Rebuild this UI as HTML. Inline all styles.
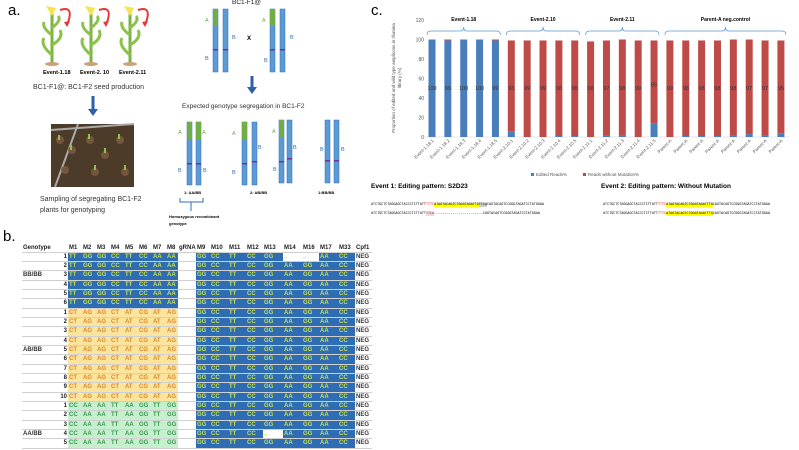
<!DOCTYPE html>
<html><head><meta charset="utf-8">
<style>
body{margin:0;background:#fff;font-family:"Liberation Sans",sans-serif;}
#root{position:relative;width:799px;height:450px;overflow:hidden;background:#fff}
.abs{position:absolute}
.t{position:absolute;white-space:nowrap}
#tbl div{position:absolute;font-size:6px;font-weight:bold;line-height:9px;text-align:left;box-sizing:border-box}
</style></head>
<body>
<div id="root">
<div class="t" style="left:8px;top:2px;font-size:15px">a.</div>
<div class="t" style="left:3px;top:228px;font-size:15px">b.</div>
<div class="t" style="left:371px;top:2px;font-size:15px">c.</div>

<svg class="abs" style="left:0;top:0" width="370" height="230">
 <g>
  <g id="plant"><path d="M52 64 L52 12" stroke="#7cb342" stroke-width="3"/><path d="M52 55 Q40 45 44 38 M52 45 Q64 38 60 30 M52 35 Q42 28 44 22 M52 28 Q62 20 58 16" stroke="#8bc34a" stroke-width="3" fill="none"/><path d="M46 6 L52 16 L56 8 Z" fill="#f5e44a"/><ellipse cx="52" cy="64" rx="7" ry="2" fill="#c9a27a"/><path d="M60 10 Q75 5 67 25" stroke="#e53935" stroke-width="2" fill="none"/><path d="M64 22 L67 27 L70 21" fill="#e53935"/></g>
  <use href="#plant" x="39"/><use href="#plant" x="78"/>
 </g>
 <text x="43" y="74" font-size="5.5" font-weight="bold" font-family="Liberation Sans">Event-1.18</text>
 <text x="80" y="74" font-size="5.5" font-weight="bold" font-family="Liberation Sans">Event-2. 10</text>
 <text x="119" y="74" font-size="5.5" font-weight="bold" font-family="Liberation Sans">Event-2.11</text>
 <text x="33" y="89" font-size="7" fill="#333" font-family="Liberation Sans">BC1-F1@: BC1-F2 seed production</text>
 <path d="M93 96 V110" stroke="#2f5fa8" stroke-width="3"/><path d="M88 109 L93 116 L98 109Z" fill="#2f5fa8"/>
 <rect x="51" y="124" width="83" height="63" fill="#4d3b2a"/>
 <path d="M51 130 L134 124 M55 187 L78 124" stroke="#aaa" stroke-width="2"/>
 <g fill="#7a5a3e" opacity=".9"><circle cx="60" cy="140" r="4"/><circle cx="72" cy="150" r="4"/><circle cx="90" cy="140" r="4"/><circle cx="105" cy="155" r="4"/><circle cx="120" cy="140" r="4"/><circle cx="65" cy="170" r="4"/><circle cx="95" cy="172" r="4"/><circle cx="125" cy="172" r="4"/></g>
 <g fill="#8bc34a"><rect x="58" y="135" width="2" height="5"/><rect x="88" y="134" width="2" height="5"/><rect x="104" y="148" width="2" height="5"/><rect x="118" y="134" width="2" height="5"/><rect x="94" y="165" width="2" height="5"/><rect x="124" y="165" width="2" height="5"/><rect x="70" y="145" width="2" height="5"/></g>
 <text x="40" y="201" font-size="7" fill="#333" font-family="Liberation Sans">Sampling of segregating BC1-F2</text>
 <text x="40" y="212" font-size="7" fill="#333" font-family="Liberation Sans">plants for genotyping</text>
 <text x="232" y="4" font-size="6.5" fill="#222" font-family="Liberation Sans">BC1-F1@</text>
 <g id="chrA"><rect x="213" y="9" width="5" height="63" fill="#5b9bd5" stroke="#2f6eb5" stroke-width=".5"/><rect x="213" y="9" width="5" height="17" fill="#70ad47"/><rect x="213" y="49" width="5" height="1.5" fill="#7030a0"/></g>
 <g id="chrB"><rect x="223" y="9" width="5" height="63" fill="#5b9bd5" stroke="#2f6eb5" stroke-width=".5"/><rect x="223" y="49" width="5" height="1.5" fill="#7030a0"/></g>
 <use href="#chrA" x="57"/><use href="#chrB" x="57"/>
 <g font-size="5.5" font-family="Liberation Sans"><text x="205" y="22" fill="#70ad47">A</text><text x="205" y="60" fill="#2f6eb5">B</text><text x="232" y="39" fill="#2f6eb5">B</text><text x="262" y="22" fill="#70ad47">A</text><text x="264" y="62" fill="#2f6eb5">B</text><text x="290" y="39" fill="#2f6eb5">B</text></g>
 <text x="247" y="40" font-size="6" font-weight="bold">X</text>
 <path d="M252 76 V88" stroke="#2f5fa8" stroke-width="3"/><path d="M247 87 L252 94 L257 87Z" fill="#2f5fa8"/>
 <text x="182" y="108" font-size="6.5" fill="#333" font-family="Liberation Sans">Expected genotype segregation in BC1-F2</text>
 <g id="chrA2"><rect x="187" y="122" width="5" height="63" fill="#5b9bd5" stroke="#2f6eb5" stroke-width=".5"/><rect x="187" y="122" width="5" height="17" fill="#70ad47"/><rect x="187" y="163" width="5" height="1.5" fill="#7030a0"/></g>
 <use href="#chrA2" x="9"/>
 <use href="#chrA2" x="55"/>
 <g><rect x="252" y="122" width="5" height="63" fill="#5b9bd5" stroke="#2f6eb5" stroke-width=".5"/><rect x="252" y="161" width="5" height="1.5" fill="#7030a0"/></g>
 <use href="#chrA2" x="92" y="-2"/>
 <g><rect x="287" y="120" width="5" height="63" fill="#5b9bd5" stroke="#2f6eb5" stroke-width=".5"/><rect x="287" y="158" width="5" height="1.5" fill="#7030a0"/></g>
 <g><rect x="325" y="120" width="5" height="63" fill="#5b9bd5" stroke="#2f6eb5" stroke-width=".5"/><rect x="325" y="160" width="5" height="1.5" fill="#7030a0"/><rect x="334" y="120" width="5" height="63" fill="#5b9bd5" stroke="#2f6eb5" stroke-width=".5"/><rect x="334" y="160" width="5" height="1.5" fill="#7030a0"/></g>
 <g font-size="5.5" font-family="Liberation Sans"><text x="178" y="134" fill="#70ad47">A</text><text x="202" y="134" fill="#70ad47">A</text><text x="178" y="172" fill="#2f6eb5">B</text><text x="203" y="172" fill="#2f6eb5">B</text><text x="232" y="135" fill="#70ad47">A</text><text x="232" y="174" fill="#2f6eb5">B</text><text x="258" y="149" fill="#2f6eb5">B</text><text x="272" y="133" fill="#70ad47">A</text><text x="273" y="171" fill="#2f6eb5">B</text><text x="293" y="149" fill="#2f6eb5">B</text><text x="320" y="151" fill="#2f6eb5">B</text><text x="341" y="151" fill="#2f6eb5">B</text></g>
 <g font-size="4" font-weight="bold" font-family="Liberation Sans"><text x="184" y="194">1: AA/BB</text><text x="250" y="194">2:  AB/BB</text><text x="318" y="194">1:BB/BB</text><text x="169" y="218">Homozygous recombinant</text><text x="169" y="225">genotype</text></g>
 <path d="M180 198 V202 H203 V198 M191 202 V211" stroke="#2f6eb5" stroke-width="1" fill="none"/>
</svg>

<div id="tbl" class="abs" style="left:0;top:0;width:380px;height:450px"></div>

<svg id="chart" class="abs" style="left:380px;top:0" width="419" height="230"></svg>

<div class="t" style="left:371px;top:183px;font-size:6.5px;font-weight:bold">Event 1: Editing pattern: S2D23</div>
<div class="t" style="left:601px;top:183px;font-size:6.5px;font-weight:bold">Event  2: Editing pattern: Without Mutation</div>
<div class="t" style="left:371px;top:201px;font-size:3.4px;font-family:'Liberation Mono',monospace;line-height:9px">ATCTGCTCTAGGAGCTACCCTCTTATT<span style="color:red">TTTC</span><span style="background:#ff0">ATAGTACAGTCTGGGTAGATTG</span><span style="background:#ccc">TTCA</span>CAGTACAGTCCGGGTAGATCCTATGGAA<br>ATCTGCTCTAGGAGCTACCCTCTTATT<span style="color:red;background:#ddd">TTCA</span>------------------------CAGTACAGTCCGGGTAGATCCTATGGAA</div>
<div class="t" style="left:603px;top:201px;font-size:3.4px;font-family:'Liberation Mono',monospace;line-height:9px">ATCTGCTCTAGGAGCTACCCTCTTATT<span style="color:red">TTTC</span><span style="background:#ff0">ATAGTACAGTCTGGGTAGATTTG</span>CAGTACAGTCCGGGTAGATCCTATGGAA<br>ATCTGCTCTAGGAGCTACCCTCTTATT<span style="color:red">TTTC</span><span style="background:#ff0">ATAGTACAGTCTGGGTAGATTTG</span>CAGTACAGTCCGGGTAGATCCTATGGAA</div>

<script>
// ---- chart data ----
const categories=["Event-1.18.1","Event-1.18.2","Event-1.18.3","Event-1.18.4","Event-1.18.5","Event-2.10.1","Event-2.10.2","Event-2.10.3","Event-2.10.4","Event-2.10.5","Event-2.11.1","Event-2.11.2","Event-2.11.3","Event-2.11.4","Event-2.11.5","Parent-A","Parent-A","Parent-A","Parent-A","Parent-A","Parent-A","Parent-A","Parent-A"];
const editedReads=[100,99,100,100,99,6,0,0,1,1,0,2,2,0,14,0,1,1,1,2,3,2,4];
const withoutMutation=[0,1,0,0,1,93,99,99,98,98,98,97,98,99,85,99,98,98,98,98,97,97,95];
const barLabels=[100,99,100,100,99,93,99,99,98,98,98,97,98,99,85,99,98,98,98,98,97,97,95];
const yTicks=[0,20,40,60,80,100,120];
const groups=[["Event-1.18",0,4],["Event-2.10",5,9],["Event-2.11",10,14],["Parent-A  neg.control",15,22]];
const NS="http://www.w3.org/2000/svg";
const svg=document.getElementById('chart');
const X0=52,STEP=15.86,BW=7;
const x=i=>X0+i*STEP;
const y=v=>137-v*(117/120);
function mk(tag,attrs,parent){const e=document.createElementNS(NS,tag);for(const k in attrs)e.setAttribute(k,attrs[k]);(parent||svg).appendChild(e);return e;}
yTicks.forEach(t=>{const e=mk('text',{x:44,y:y(t)+2,'font-size':5,'text-anchor':'end',fill:'#555','font-family':'Liberation Sans'});e.textContent=t;

});
const yt=mk('text',{x:0,y:0,'font-size':4.5,fill:'#555','text-anchor':'middle',transform:'translate(15,78) rotate(-90)','font-family':'Liberation Sans'});
yt.textContent='Proportion of edited and wild type amplicons in Illumina';


const yt2=mk('text',{x:0,y:0,'font-size':4.5,fill:'#555','text-anchor':'middle',transform:'translate(21,78) rotate(-90)','font-family':'Liberation Sans'});
yt2.textContent='library (%)';


mk('line',{x1:44,x2:x(22)+8,y1:y(0),y2:y(0),stroke:'#ccc','stroke-width':.5});
categories.forEach((c,i)=>{
 const cx=x(i);
 const r1=mk('rect',{x:cx-BW/2,y:y(editedReads[i]),width:BW,height:y(0)-y(editedReads[i]),fill:'#4a7ebb'});
 
 
 const r2=mk('rect',{x:cx-BW/2,y:y(editedReads[i]+withoutMutation[i]),width:BW,height:y(editedReads[i])-y(editedReads[i]+withoutMutation[i]),fill:'#be4b48'});
 
 
 const l=mk('text',{x:cx,y:y(i==14?52:48),'font-size':5.5,'text-anchor':'middle',fill:'#333','font-family':'Liberation Sans'});l.textContent=barLabels[i];
 
 
 const xl=mk('text',{x:0,y:0,'font-size':4.5,'text-anchor':'end',fill:'#555',transform:`translate(${cx+2},${y(0)+4}) rotate(-45)`,'font-family':'Liberation Sans'});xl.textContent=c;
 
 
});
groups.forEach(g=>{const a=x(g[1])-5,b=x(g[2])+5,m=(a+b)/2;
 const p=mk('path',{d:`M${a} 35 Q${a} 31 ${a+4} 31 L${m-3} 31 Q${m} 31 ${m} 27 Q${m} 31 ${m+3} 31 L${b-4} 31 Q${b} 31 ${b} 35`,stroke:'#5b9bd5','stroke-width':.8,fill:'none'});
 
 
 const t=mk('text',{x:m,y:21,'font-size':5,'font-weight':'bold','text-anchor':'middle','font-family':'Liberation Sans'});t.textContent=g[0];
 
 });
const lg=mk('g',{});


mk('rect',{x:151,y:173,width:3,height:3,fill:'#4a7ebb'},lg);
mk('text',{x:156,y:176,'font-size':4.5,fill:'#555','font-family':'Liberation Sans'},lg).textContent='Edited Reads%';
mk('rect',{x:203,y:173,width:3,height:3,fill:'#be4b48'},lg);
mk('text',{x:208,y:176,'font-size':4.5,fill:'#555','font-family':'Liberation Sans'},lg).textContent='Reads without Mutation%';

// ---- table ----
const tbl=document.getElementById('tbl');
const headers=["Genotype","","M1","M2","M3","M4","M5","M6","M7","M8","gRNA","M9","M10","M11","M12","M13","M14","M16","M17","M33","Cpf1"];
const colX=[22,57,68,82,96,110,124,138,152,166,178,196,210,228,246,263,283,302,319,338,355,372];
const bbVals=["TT","GG","GG","CC","TT","CC","AA","AA"];
const abVals=["CT","AG","AG","CT","AT","CG","AT","AG"];
const aaVals=["CC","AA","AA","TT","AA","GG","TT","GG"];
const rightVals=["GG","CC","TT","CC","GG","AA","GG","AA","CC"];
const rowGroups=[["BB/BB",6,bbVals,'#2e6db4','#c5e04b'],["AB/BB",10,abVals,'#fde49c','#d58a2c'],["AA/BB",5,aaVals,'#c6efcd','#3a9a52']];
const RH=9.33,TOP=243.5;
function cell(cx,cy,w,h,txt,bg,col,name){const d=document.createElement('div');d.style.left=cx+'px';d.style.top=cy+'px';d.style.width=w+'px';d.style.height=h+'px';if(bg)d.style.background=bg;d.style.color=col||'#333';d.style.borderBottom='0.5px solid #d0d0d0';d.style.paddingLeft='1px';d.textContent=txt;


tbl.appendChild(d);return d;}
headers.forEach((h,i)=>cell(colX[i],TOP,colX[i+1]-colX[i],RH,h,null,'#222','table-header-cell'));
let r=0;
rowGroups.forEach(g=>{for(let k=0;k<g[1];k++){r++;const cy=TOP+r*RH;
 const mid=Math.floor((g[1]-1)/2)+(g[1]==5?1:0);
 cell(colX[0],cy,35,RH,k==mid?g[0]:"",null,'#333','genotype-cell');
 const n=cell(colX[1],cy,11,RH,String(k+1),null,'#222','row-number');n.style.textAlign='right';n.style.paddingRight='1px';
 for(let j=0;j<8;j++)cell(colX[2+j],cy,colX[3+j]-colX[2+j],RH,g[2][j],g[3],g[4],'marker-cell');
 cell(colX[10],cy,18,RH,"",null,null,'grna-cell');
 for(let j=0;j<9;j++){let v=rightVals[j],bg='#2e6db4';
  if(g[0]=="BB/BB"&&k==0&&(j==5||j==6)){v="..";bg='#fff';}
  if(g[0]=="AA/BB"&&k==3&&j==4){v="..";bg='#fff';}
  cell(colX[11+j],cy,colX[12+j]-colX[11+j],RH,v,bg,'#c5e04b','marker-cell');}
 cell(colX[20],cy,17,RH,"NEG",null,'#333','cpf1-cell');
}});
</script>
</div>
</body></html>
